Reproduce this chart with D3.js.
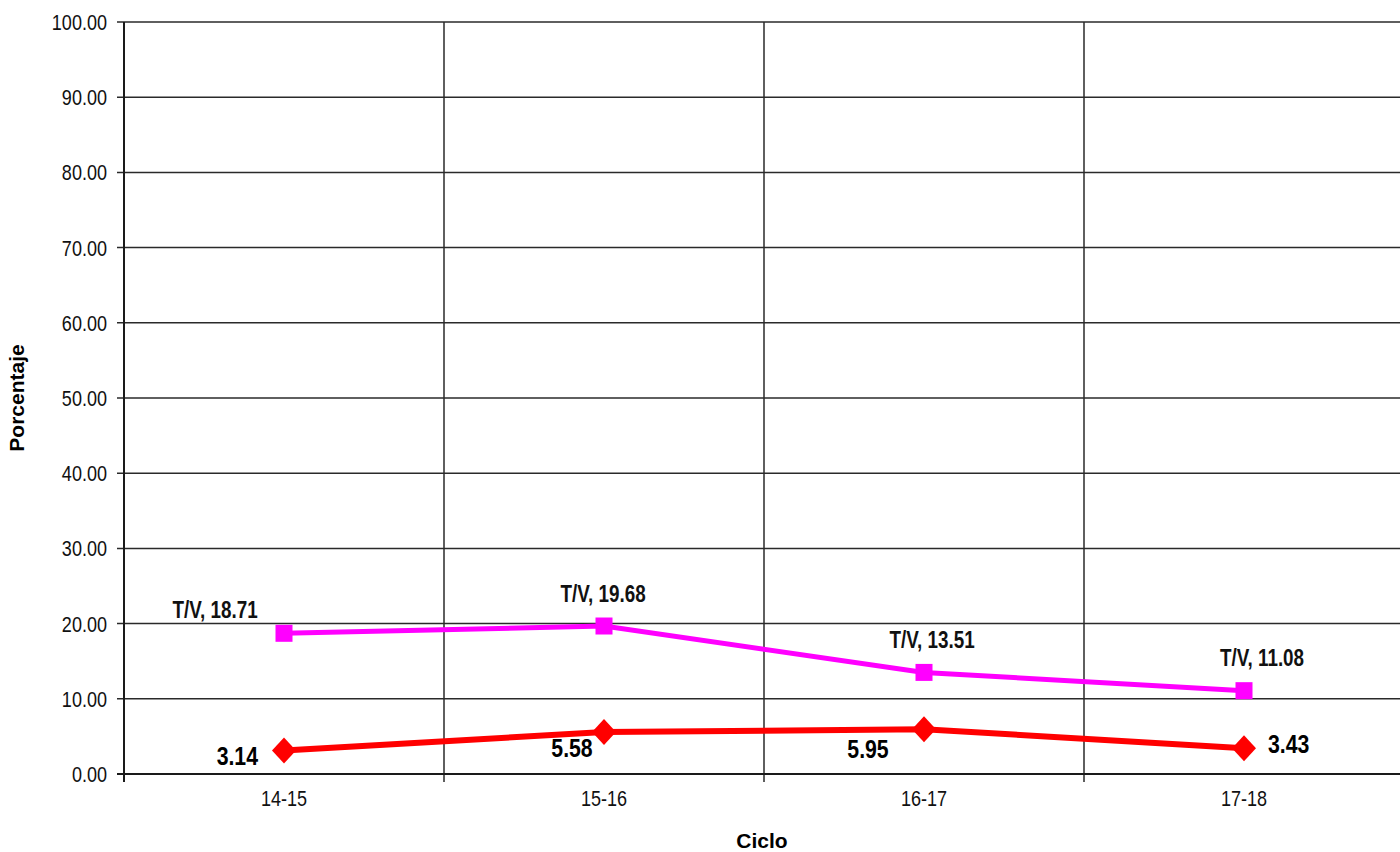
<!DOCTYPE html>
<html>
<head>
<meta charset="utf-8">
<script src="https://cdn.jsdelivr.net/npm/d3@7"></script>
<style>
  html, body { margin: 0; padding: 0; background: #fff; }
  svg { display: block; }
</style>
</head>
<body>
<svg id="chart" width="1400" height="852"></svg>
<script>
// ---- Data ----
const categories = ["14-15", "15-16", "16-17", "17-18"];
const tvValues = [18.71, 19.68, 13.51, 11.08];
const redValues = [3.14, 5.58, 5.95, 3.43];
const yTicks = [0, 10, 20, 30, 40, 50, 60, 70, 80, 90, 100];
const tvPrefix = "T/V, ";
const yTitle = "Porcentaje";
const xTitle = "Ciclo";

// ---- Layout (label placement relative to point) ----
const tvLabelPos = [[-69, -15], [-1, -24], [8, -24], [18, -25]];
const redLabelPos = [[-26, 15, "end"], [-32, 25, "middle"], [-56, 29, "middle"], [24, 5, "start"]];

const svg = d3.select("#chart");
const plotL = 124, plotR = 1404, plotT = 22, plotB = 774;

const x = d3.scaleBand().domain(categories).range([plotL, plotR]).padding(0);
const y = d3.scaleLinear().domain([0, 100]).range([plotB, plotT]);
const cx = d => x(d) + x.bandwidth() / 2;

const font = "'Liberation Sans', Arial, sans-serif";
const gridColor = "#2a2a2a";
const squeeze = 0.82;

// horizontal gridlines
svg.append("g").selectAll("line").data(yTicks).join("line")
  .attr("x1", plotL - 7).attr("x2", 1400)
  .attr("y1", d => y(d)).attr("y2", d => y(d))
  .attr("stroke", gridColor).attr("stroke-width", 1.5);

// vertical gridlines (band boundaries)
const bounds = categories.map(c => x(c)).concat([plotR]);
svg.append("g").selectAll("line").data(bounds).join("line")
  .attr("x1", d => d).attr("x2", d => d)
  .attr("y1", plotT).attr("y2", plotB + 8)
  .attr("stroke", gridColor).attr("stroke-width", 1.5);

// axis lines
svg.append("line").attr("x1", plotL).attr("x2", plotL).attr("y1", plotT).attr("y2", plotB + 8)
  .attr("stroke", "#1a1a1a").attr("stroke-width", 2);
svg.append("line").attr("x1", plotL - 7).attr("x2", 1400).attr("y1", plotB).attr("y2", plotB)
  .attr("stroke", "#1a1a1a").attr("stroke-width", 2);

// y tick labels
svg.append("g").selectAll("text").data(yTicks).join("text")
  .attr("transform", d => `translate(107,${y(d)}) scale(${squeeze},1)`)
  .attr("dy", "0.36em")
  .attr("text-anchor", "end")
  .style("font-family", font).style("font-size", "22px").attr("fill", "#111")
  .text(d => d3.format(".2f")(d));

// x tick labels
svg.append("g").selectAll("text").data(categories).join("text")
  .attr("transform", d => `translate(${cx(d)},806) scale(${squeeze},1)`)
  .attr("text-anchor", "middle")
  .style("font-family", font).style("font-size", "22px").attr("fill", "#111")
  .text(d => d);

// axis titles
svg.append("text")
  .attr("transform", "translate(24,398) rotate(-90)")
  .attr("text-anchor", "middle")
  .style("font-family", font).style("font-size", "21px").style("font-weight", "bold")
  .text(yTitle);
svg.append("text")
  .attr("x", 762).attr("y", 848).attr("text-anchor", "middle")
  .style("font-family", font).style("font-size", "21px").style("font-weight", "bold")
  .text(xTitle);

// lines
const line = d3.line().x((d, i) => cx(categories[i])).y(d => y(d));
svg.append("path").datum(tvValues).attr("d", line)
  .attr("fill", "none").attr("stroke", "#FF00FF").attr("stroke-width", 5);
svg.append("path").datum(redValues).attr("d", line)
  .attr("fill", "none").attr("stroke", "#FF0000").attr("stroke-width", 6);

// markers
svg.append("g").selectAll("rect").data(tvValues).join("rect")
  .attr("x", (d, i) => cx(categories[i]) - 8.5).attr("y", d => y(d) - 8.5)
  .attr("width", 17).attr("height", 17).attr("fill", "#FF00FF");
svg.append("g").selectAll("path").data(redValues).join("path")
  .attr("transform", (d, i) => `translate(${cx(categories[i])},${y(d)})`)
  .attr("d", "M0,-13 L12,0 L0,13 L-12,0 Z").attr("fill", "#FF0000");

// labels
svg.append("g").selectAll("text").data(tvValues).join("text")
  .attr("transform", (d, i) => `translate(${cx(categories[i]) + tvLabelPos[i][0]},${y(d) + tvLabelPos[i][1]}) scale(${squeeze},1)`)
  .attr("text-anchor", "middle")
  .style("font-family", font).style("font-size", "23px").style("font-weight", "bold")
  .attr("fill", "#111")
  .text(d => tvPrefix + d3.format(".2f")(d));
svg.append("g").selectAll("text").data(redValues).join("text")
  .attr("transform", (d, i) => `translate(${cx(categories[i]) + redLabelPos[i][0]},${y(d) + redLabelPos[i][1]}) scale(0.85,1)`)
  .attr("text-anchor", (d, i) => redLabelPos[i][2])
  .style("font-family", font).style("font-size", "25px").style("font-weight", "bold")
  .attr("fill", "#000")
  .text(d => d3.format(".2f")(d));
</script>
</body>
</html>
